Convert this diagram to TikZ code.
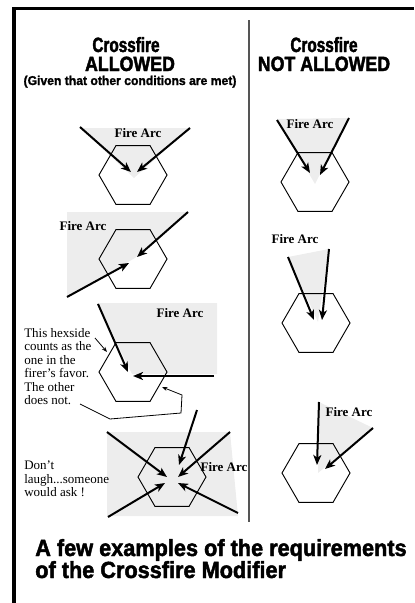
\documentclass[tikz,border=0pt]{standalone}
\usepackage{fontspec}
\setmainfont{Liberation Serif}
\newfontfamily\hfont{Liberation Sans}[FakeStretch=0.74,FakeBold=2]
\newfontfamily\hcfont{Liberation Sans}[FakeStretch=0.86,FakeBold=2]
\newfontfamily\tfont{Liberation Sans}[FakeStretch=0.93,FakeBold=2]
\newfontfamily\gfont{Liberation Sans}[FakeStretch=0.95,FakeBold=1.5]
\usetikzlibrary{shapes.geometric,arrows.meta}
\definecolor{arcgray}{HTML}{EDEDED}
\definecolor{divgray}{HTML}{555555}
\tikzset{
  hex/.style={regular polygon, regular polygon sides=6, minimum size=51pt, inner sep=0pt, draw, line width=0.7pt},
  arcfill/.style={fill=arcgray},
  shot/.style={line width=1.5pt, -{Stealth[length=7.5pt,width=6pt,inset=2pt]}},
  note/.style={line width=0.6pt, -{Stealth[length=4pt,width=3pt]}},
  farc/.style={font=\fontsize{9.75pt}{10pt}\selectfont\bfseries, inner sep=0pt},
  body/.style={font=\fontsize{9.75pt}{10.1pt}\selectfont, align=left, inner sep=0pt, anchor=north west},
  head/.style={font=\hfont\bfseries\fontsize{15.5pt}{16pt}\selectfont, inner sep=0pt, anchor=base},
  headcaps/.style={font=\hcfont\bfseries\fontsize{15.5pt}{16pt}\selectfont, inner sep=0pt, anchor=base},
  title/.style={font=\tfont\bfseries\fontsize{17.5pt}{18pt}\selectfont, inner sep=0pt, anchor=base west}
}
\begin{document}
\begin{tikzpicture}[x=0.75pt,y=-0.75pt]
\useasboundingbox (0,0) rectangle (414,603);
% frame
\fill (12,7) rectangle (414,10);
\fill (12,7) rectangle (16,603);
\draw[divgray, line width=0.8pt] (249,20) -- (249,522);
% headers
\node[head] (hL1) at (126,52) {Crossfire};
\node[headcaps] (hL2) at (130,71) {ALLOWED};
\node[font=\gfont\bfseries\fontsize{9.6pt}{10pt}\selectfont, inner sep=0pt, anchor=base] (hL3) at (130,85) {(Given that other conditions are met)};
\node[head] (hR1) at (324,52) {Crossfire};
\node[headcaps] (hR2) at (324,71) {NOT ALLOWED};
% gray fire arcs
\fill[arcfill] (80,128) -- (190,128) -- (134,178) -- cycle;
\fill[arcfill] (67,212) -- (188,212) -- (135,258) -- (67,297) -- cycle;
\fill[arcfill] (97,303) -- (217,303) -- (217,374) -- (132,374) -- cycle;
\fill[arcfill] (107,432) -- (230,432) -- (238,516) -- (107,516) -- cycle;
\fill[arcfill] (277,119) -- (349,118) -- (315,184) -- cycle;
\fill[arcfill] (288,257) -- (329,249) -- (318,322) -- cycle;
\fill[arcfill] (319,402) -- (373,428) -- (318,473) -- cycle;
% hexes
\node[hex] (h1) at (133,175) {};
\node[hex] (h2) at (133,259) {};
\node[hex] (h3) at (133,372) {};
\node[hex] (h4) at (172,477) {};
\node[hex] (r1) at (315,182) {};
\node[hex] (r2) at (316,323) {};
\node[hex] (r3) at (316,473) {};
% arrow end points
\coordinate (a1s) at (80,127);  \coordinate (a1t) at (131,172);
\coordinate (b1s) at (190,128); \coordinate (b1t) at (137,172);
\coordinate (a2s) at (188,212); \coordinate (a2t) at (137,257);
\coordinate (b2s) at (67,297);  \coordinate (b2t) at (129,263);
\coordinate (a3s) at (98,304);  \coordinate (a3t) at (128,372);
\coordinate (b3s) at (214,376); \coordinate (b3t) at (133,376);
\coordinate (a4s) at (107,432); \coordinate (a4t) at (167,477);
\coordinate (b4s) at (197,410); \coordinate (b4t) at (179,465);
\coordinate (c4s) at (230,432); \coordinate (c4t) at (178,477);
\coordinate (d4s) at (108,517); \coordinate (d4t) at (165,483);
\coordinate (e4s) at (238,513); \coordinate (e4t) at (178,483);
\coordinate (ra1s) at (277,120); \coordinate (ra1t) at (310,173);
\coordinate (rb1s) at (349,118); \coordinate (rb1t) at (320,175);
\coordinate (ra2s) at (288,257); \coordinate (ra2t) at (314,320);
\coordinate (rb2s) at (329,249); \coordinate (rb2t) at (322,320);
\coordinate (ra3s) at (319,402); \coordinate (ra3t) at (317,465);
\coordinate (rb3s) at (373,428); \coordinate (rb3t) at (325,469);
% shots
\foreach \p in {a1,b1,a2,b2,a3,b3,a4,b4,c4,d4,e4,ra1,rb1,ra2,rb2,ra3,rb3}
  \draw[shot] (\p s) -- (\p t);
% labels
\node[farc] (f1) at (138,133) {Fire Arc};
\node[farc] (f2) at (83,226) {Fire Arc};
\node[farc] (f3) at (180,313) {Fire Arc};
\node[farc] (f4) at (224,467) {Fire Arc};
\node[farc] (f5) at (310,124) {Fire Arc};
\node[farc] (f6) at (295,239) {Fire Arc};
\node[farc] (f7) at (349,412) {Fire Arc};
% notes
\node[body] (t1) at (24,328) {This hexside\\counts as the\\one in the\\firer’s favor.\\The other\\does not.};
\node[body] (t2) at (24,461) {Don’t\\laugh...someone\\would ask !};
\coordinate (n1s) at (95,338); \coordinate (n1t) at (107,352);
\draw[note] (n1s) -- (n1t);
\coordinate (n2a) at (80,404); \coordinate (n2b) at (110,419);
\coordinate (n2c) at (181,413); \coordinate (n2d) at (182,395);
\coordinate (n2t) at (162,387);
\draw[note] (n2a) -- (n2b) -- (n2c) -- (n2d) -- (n2t);
% title
\node[title] (T1) at (35,556) {A few examples of the requirements};
\node[title] (T2) at (35,578) {of the Crossfire Modifier};
\end{tikzpicture}
\end{document}
